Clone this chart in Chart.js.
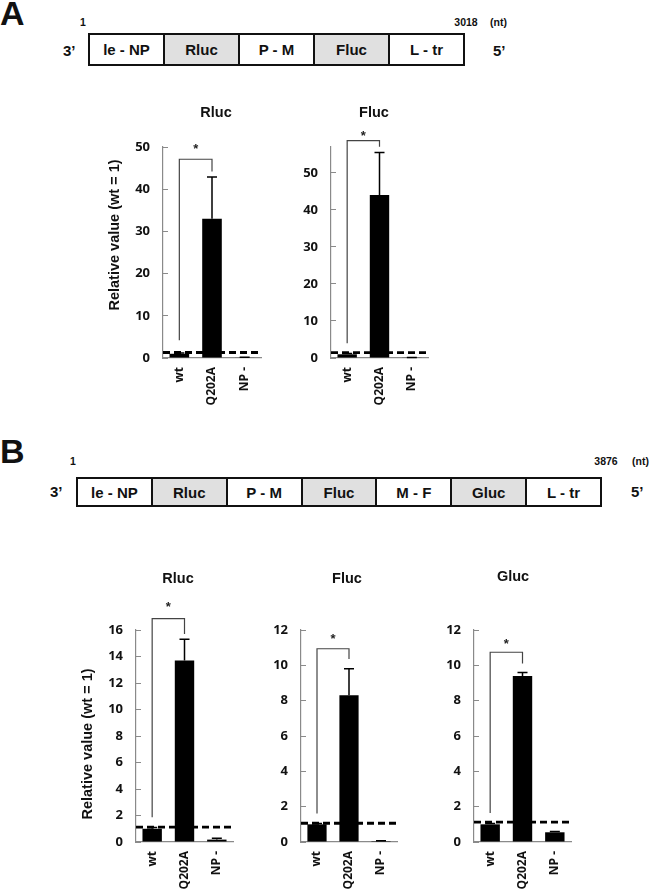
<!DOCTYPE html>
<html>
<head>
<meta charset="utf-8">
<script src="https://cdn.jsdelivr.net/npm/chart.js@4.4.1/dist/chart.umd.min.js"></script>
<style>
  html, body { margin: 0; padding: 0; background: #fff; }
  body { width: 650px; height: 893px; position: relative; overflow: hidden;
         font-family: "Liberation Sans", Arial, sans-serif; font-weight: bold; color: #111; }
  .txt { position: absolute; line-height: 1; white-space: nowrap; }
  .map { position: absolute; display: flex; border: 2px solid #111; box-sizing: border-box; }
  .map div { flex: 1; display: flex; align-items: center; justify-content: center;
             font-size: 15px; border-left: 2px solid #111; background: #fff; }
  .map div:first-child { border-left: none; }
  .map div.shade { background: #e0e0e0; }
  canvas { position: absolute; }
</style>
</head>
<body>
<script>
// ---- data ----
var categories = ['wt', 'Q202A', 'NP -'];

var mapA = ['le - NP', 'Rluc', 'P - M', 'Fluc', 'L - tr'];
var mapB = ['le - NP', 'Rluc', 'P - M', 'Fluc', 'M - F', 'Gluc', 'L - tr'];
var reporters = ['Rluc', 'Fluc', 'Gluc'];

// panel A (bar height, SD above the bar)
var aRlucValues = [1.0, 33.0, 0.1];
var aRlucSD = [0.2, 9.9, 0.05];
var aFlucValues = [1.0, 44.0, 0.1];
var aFlucSD = [0.2, 11.5, 0.05];

// panel B
var bRlucValues = [1.0, 13.7, 0.18];
var bRlucSD = [0.1, 1.6, 0.1];
var bFlucValues = [1.0, 8.3, 0.05];
var bFlucSD = [0.05, 1.5, 0.02];
var bGlucValues = [1.0, 9.4, 0.55];
var bGlucSD = [0.05, 0.2, 0.05];

// dashed wt = 1 reference level as drawn
var refLevels = [1.3, 1.45, 1.13, 1.06, 1.12];
// significance bracket: [left foot, top, right foot], star level
var brackets = [[4.2, 47.1, 44.2], [4.0, 58.7, 57.1], [1.87, 16.86, 15.7], [1.61, 10.94, 10.36], [1.64, 10.74, 10.11]];
var starLevels = [50.4, 60.9, 18.0, 11.68, 11.43];

// y axis ranges
var yMax = [50, 57, 16, 12, 12];
var yStep = [10, 10, 2, 2, 2];

// ---- genome maps ----
function text(str, x, base, fs, align) {
  var s = document.createElement('span');
  s.className = 'txt';
  s.textContent = str;
  s.style.fontSize = fs + 'px';
  s.style.left = x + 'px';
  s.style.top = (base - 0.8465 * fs) + 'px';
  if (align === 'center') s.style.transform = 'translateX(-50%)';
  if (align === 'right') s.style.transform = 'translateX(-100%)';
  document.body.appendChild(s);
}
function genomeMap(parts, left, top, width, height) {
  var box = document.createElement('div');
  box.className = 'map';
  box.style.left = left + 'px'; box.style.top = top + 'px';
  box.style.width = width + 'px'; box.style.height = height + 'px';
  parts.forEach(function (p) {
    var d = document.createElement('div');
    d.textContent = p;
    if (reporters.indexOf(p) >= 0) d.className = 'shade';
    box.appendChild(d);
  });
  document.body.appendChild(box);
}

text('A', 0, 25, 34);
genomeMap(mapA, 88, 33, 377, 33);
text('1', 83, 26, 10.5, 'center');
text('3018', 466, 26, 10.5, 'center');
text('(nt)', 490, 26, 10.5);
text('3\u2019', 63, 56, 15);
text('5\u2019', 493, 56, 15);

text('B', 0, 463, 34);
genomeMap(mapB, 76, 477, 526, 30);
text('1', 73, 465, 10.5, 'center');
text('3876', 606, 465, 10.5, 'center');
text('(nt)', 632, 465, 10.5);
text('3\u2019', 50, 497, 15);
text('5\u2019', 631, 497, 15);

// ---- charts ----
var decor = {
  id: 'decor',
  afterDatasetsDraw: function (chart, args, o) {
    var ctx = chart.ctx, xs = chart.scales.x, ys = chart.scales.y, area = chart.chartArea;
    var meta = chart.getDatasetMeta(0);
    var vals = chart.data.datasets[0].data;
    ctx.save();
    // error bars (upper only)
    ctx.strokeStyle = '#000';
    ctx.lineWidth = 1.5;
    o.sd.forEach(function (e, i) {
      var bar = meta.data[i];
      var top = ys.getPixelForValue(vals[i] + e);
      ctx.beginPath();
      ctx.moveTo(bar.x, bar.y);
      ctx.lineTo(bar.x, top);
      ctx.moveTo(bar.x - 5, top);
      ctx.lineTo(bar.x + 5, top);
      ctx.stroke();
    });
    // dashed reference line
    var ly = ys.getPixelForValue(o.ref);
    ctx.setLineDash([7, 4]);
    ctx.lineWidth = 2.8;
    ctx.beginPath();
    ctx.moveTo(area.left, ly);
    ctx.lineTo(area.right, ly);
    ctx.stroke();
    ctx.setLineDash([]);
    // bracket between wt and Q202A
    var x0 = xs.getPixelForValue(0), x1 = xs.getPixelForValue(1);
    ctx.strokeStyle = '#444';
    ctx.lineWidth = 1.2;
    ctx.beginPath();
    ctx.moveTo(x0, ys.getPixelForValue(o.bracket[0]));
    ctx.lineTo(x0, ys.getPixelForValue(o.bracket[1]));
    ctx.lineTo(x1, ys.getPixelForValue(o.bracket[1]));
    ctx.lineTo(x1, ys.getPixelForValue(o.bracket[2]));
    ctx.stroke();
    ctx.fillStyle = '#222';
    ctx.font = 'bold 13px "Liberation Sans", Arial';
    ctx.textAlign = 'center';
    ctx.textBaseline = 'alphabetic';
    ctx.fillText('*', (x0 + x1) / 2, ys.getPixelForValue(o.star) + 7.5);
    ctx.restore();
  },
  afterDraw: function (chart, args, o) {
    var ctx = chart.ctx, c = chart.canvas;
    var ox = c.offsetLeft, oy = c.offsetTop;
    ctx.save();
    ctx.fillStyle = '#111';
    ctx.font = 'bold 14.5px "Liberation Sans", Arial';
    ctx.textAlign = 'center';
    ctx.textBaseline = 'middle';
    ctx.fillText(o.title[0], o.title[1] - ox, o.title[2] - oy);
    if (o.yTitle) {
      ctx.translate(o.yTitle[1] - ox, o.yTitle[2] - oy);
      ctx.rotate(-Math.PI / 2);
      ctx.fillText(o.yTitle[0], 0, 0);
    }
    ctx.restore();
  }
};

var YW = 40, XH = 60;

function makeChart(n, area, values, sd, title, yTitle) {
  var cv = document.createElement('canvas');
  var left = area.l - 100, top = area.t - 70;
  var w = area.r - area.l + 120, h = area.b - area.t + 140;
  cv.width = w; cv.height = h;
  cv.style.left = left + 'px'; cv.style.top = top + 'px';
  cv.style.width = w + 'px'; cv.style.height = h + 'px';
  document.body.appendChild(cv);

  return new Chart(cv.getContext('2d'), {
    type: 'bar',
    data: {
      labels: categories,
      datasets: [{
        data: values,
        backgroundColor: '#000',
        borderWidth: 0,
        barPercentage: 0.6,
        categoryPercentage: 1.0
      }]
    },
    options: {
      responsive: false,
      animation: false,
      devicePixelRatio: 1,
      layout: { padding: { left: 100 - YW, top: 70, right: 20, bottom: 70 - XH } },
      plugins: {
        legend: { display: false },
        tooltip: { enabled: false },
        decor: { sd: sd, ref: refLevels[n], bracket: brackets[n], star: starLevels[n],
                 title: title, yTitle: yTitle }
      },
      scales: {
        x: {
          grid: { display: false, drawTicks: false },
          border: { display: true, color: '#8a8a8a', width: 1.2 },
          ticks: { autoSkip: false, minRotation: 90, maxRotation: 90, padding: 9,
                   color: '#111', font: { family: 'Open Sans', weight: 'bold', size: 12 } },
          afterFit: function (s) { s.height = XH; }
        },
        y: {
          min: 0,
          max: yMax[n],
          grid: { drawOnChartArea: false, drawTicks: true, tickLength: -5, color: '#8a8a8a' },
          border: { display: true, color: '#8a8a8a', width: 1.2 },
          ticks: { stepSize: yStep[n], padding: 18, color: '#111',
                   font: { family: 'Open Sans', weight: 'bold', size: 13 } },
          afterBuildTicks: function (s) {
            s.ticks = s.ticks.filter(function (t) { return t.value % yStep[n] === 0; });
          },
          afterFit: function (s) { s.width = YW; }
        }
      }
    },
    plugins: [decor]
  });
}

makeChart(0, { l: 163, r: 261, t: 147, b: 358 }, aRlucValues, aRlucSD,
          ['Rluc', 216, 113], ['Relative value (wt = 1)', 115, 235]);
makeChart(1, { l: 331, r: 428, t: 147, b: 358 }, aFlucValues, aFlucSD,
          ['Fluc', 374, 113], null);
makeChart(2, { l: 136, r: 233, t: 630, b: 842 }, bRlucValues, bRlucSD,
          ['Rluc', 178, 579], ['Relative value (wt = 1)', 88, 744]);
makeChart(3, { l: 301, r: 397, t: 630, b: 842 }, bFlucValues, bFlucSD,
          ['Fluc', 347, 579], null);
makeChart(4, { l: 474, r: 571, t: 630, b: 842 }, bGlucValues, bGlucSD,
          ['Gluc', 513, 577], null);
</script>
</body>
</html>
